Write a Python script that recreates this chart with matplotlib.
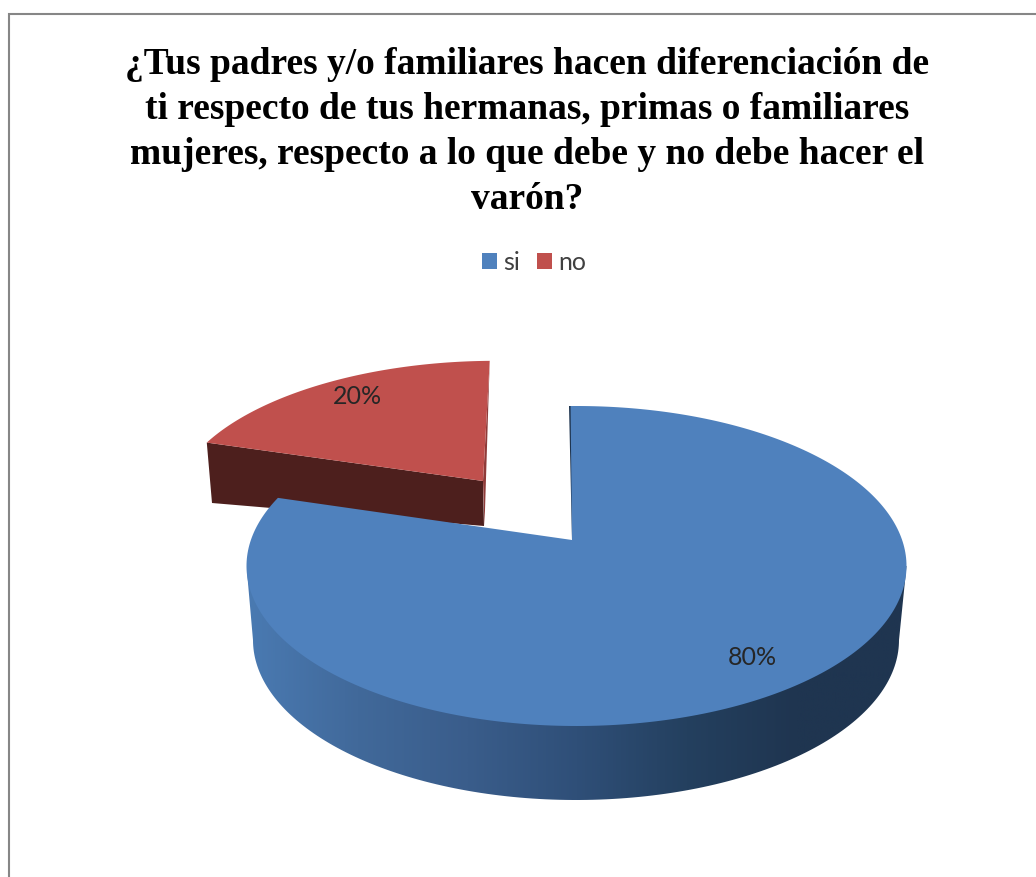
# 3D style pie chart: survey answer si / no
import matplotlib
matplotlib.use("Agg")
import matplotlib.pyplot as plt
import numpy as np
from matplotlib.colors import LinearSegmentedColormap
from matplotlib.patches import Patch, Polygon

# ---------------------------------------------------------------------------
# Data
# ---------------------------------------------------------------------------
TITLE_LINES = [
    "¿Tus padres y/o familiares hacen diferenciación de",
    "ti respecto de tus hermanas, primas o familiares",
    "mujeres, respecto a lo que debe y no debe hacer el",
    "varón?",
]
LABELS = ["si", "no"]
VALUES = [80, 20]

# ---------------------------------------------------------------------------
# Style
# ---------------------------------------------------------------------------
BLUE = "#4f81bd"
RED = "#c0504d"
DARK_RED = "#4d1f1d"
RED_EDGE = "#8f3b39"
BLUE_EDGE = "#1f3550"
BORDER = "#868686"
SIDE_COLOURS = ["#4a7ab2", "#41699a", "#3a5d8b", "#2f4f78", "#24405f", "#1f3550", "#1f3550"]

START_ANGLE = -1.2
PERSPECTIVE = -0.156  # the pie centre sits above the middle of the ellipse
WIDEST_ANGLE = 99     # angle where the projected ellipse is at its widest

fig = plt.figure(figsize=(10.36, 8.77), dpi=100)
ax = fig.add_axes([0, 0, 1, 1])
ax.set_axis_off()


def project(theta, radius=1.0, cx=576.5, cy=566.0, a=330.0, b=160.0):
    """Map a point of the flat pie (angle clockwise from the top) to the picture."""
    t = np.radians(theta)
    x = radius * np.sin(t)
    y = -radius * np.cos(t)
    w = 1 + PERSPECTIVE * y
    return (cx + a * np.sqrt(1 - PERSPECTIVE ** 2) * x / w,
            cy + b * (y + PERSPECTIVE) / w)


# slice angles come from the values
shares = np.array(VALUES) / sum(VALUES) * 360
blue_start, blue_end = START_ANGLE, START_ANGLE + shares[0]
red_start, red_end = blue_end, blue_end + shares[1]

# ---------------------------------------------------------------------------
# "no" slice, pulled out to the back
# ---------------------------------------------------------------------------
apex_x, apex_y = project(0, radius=0.0)
rt = np.linspace(red_start, red_end, 80)
rx, ry = project(rt)
red_dx = rx - apex_x + 4.5
red_dy = ry - apex_y
red_x = 483 + 0.948 * red_dx - 0.067 * 0.89 * red_dy
red_y = 481 + 0.89 * red_dy

ax.add_patch(Polygon([(red_x[0], red_y[0]), (212, 503), (484, 526), (483, 481)],
                     closed=True, fc=DARK_RED, ec="none", zorder=2))
ax.add_patch(Polygon([(red_x[-1], red_y[-1]), (484.5, 526), (483, 481)],
                     closed=True, fc=RED_EDGE, ec="none", zorder=2))
ax.fill(np.r_[483, red_x], np.r_[481, red_y], fc=RED, ec="none", zorder=3)

# ---------------------------------------------------------------------------
# "si" slice: gradient side wall, then the top face
# ---------------------------------------------------------------------------
bt = np.linspace(WIDEST_ANGLE, 360 - WIDEST_ANGLE, 160)
bot_x, bot_y = project(bt, cx=576.0, cy=640.0, a=323.0, b=160.0)
tx0, ty0 = project(WIDEST_ANGLE)
tx1, ty1 = project(360 - WIDEST_ANGLE)
wall = Polygon(np.r_[[(tx0, ty0)], np.c_[bot_x, bot_y], [(tx1, ty1)]],
               closed=True, fc="none", ec="none", transform=ax.transData)
ax.add_patch(wall)
side_cmap = LinearSegmentedColormap.from_list("side", SIDE_COLOURS)
gradient = ax.imshow(np.linspace(0, 1, 512)[None, :], cmap=side_cmap, aspect="auto",
                     extent=(247, 907, 810, 540), zorder=4)
gradient.set_clip_path(wall)

ax.add_patch(Polygon([(569, 406), (572, 540), (575.5, 541), (571, 406)],
                     closed=True, fc=BLUE_EDGE, ec="none", zorder=4))

bt = np.linspace(blue_start, blue_end, 300)
bx, by = project(bt)
ax.fill(np.r_[572, bx], np.r_[540, by], fc=BLUE, ec="none", zorder=5)

# ---------------------------------------------------------------------------
# Texts
# ---------------------------------------------------------------------------
ax.text(357, 396, f"{VALUES[1]}%", ha="center", va="center", fontsize=18,
        family="Lato", color="#262626", zorder=6)
ax.text(752.5, 657.5, f"{VALUES[0]}%", ha="center", va="center", fontsize=18,
        family="Lato", color="#262626", zorder=6)

ax.text(527.5, 132, "\n".join(TITLE_LINES), ha="center", va="center", fontsize=27,
        family="Liberation Serif", weight="bold", color="black", linespacing=1.38)

handles = [Patch(fc=BLUE, label=LABELS[0]), Patch(fc=RED, label=LABELS[1])]
ax.legend(handles=handles, loc="center", bbox_to_anchor=(534, 262),
          bbox_transform=ax.transData, ncol=2, frameon=False,
          prop={"family": "Lato", "size": 18}, labelcolor="#404040",
          handlelength=0.6, handleheight=0.6, handletextpad=0.28, columnspacing=0.65)

# chart frame (only top and left edges are inside the crop)
ax.plot([1036, 8.5, 8.5], [14, 14, 877], color=BORDER, lw=1.5, solid_joinstyle="miter", zorder=1)

ax.set_xlim(0, 1036)
ax.set_ylim(877, 0)

fig.savefig("out.png", dpi=100, facecolor="white")
